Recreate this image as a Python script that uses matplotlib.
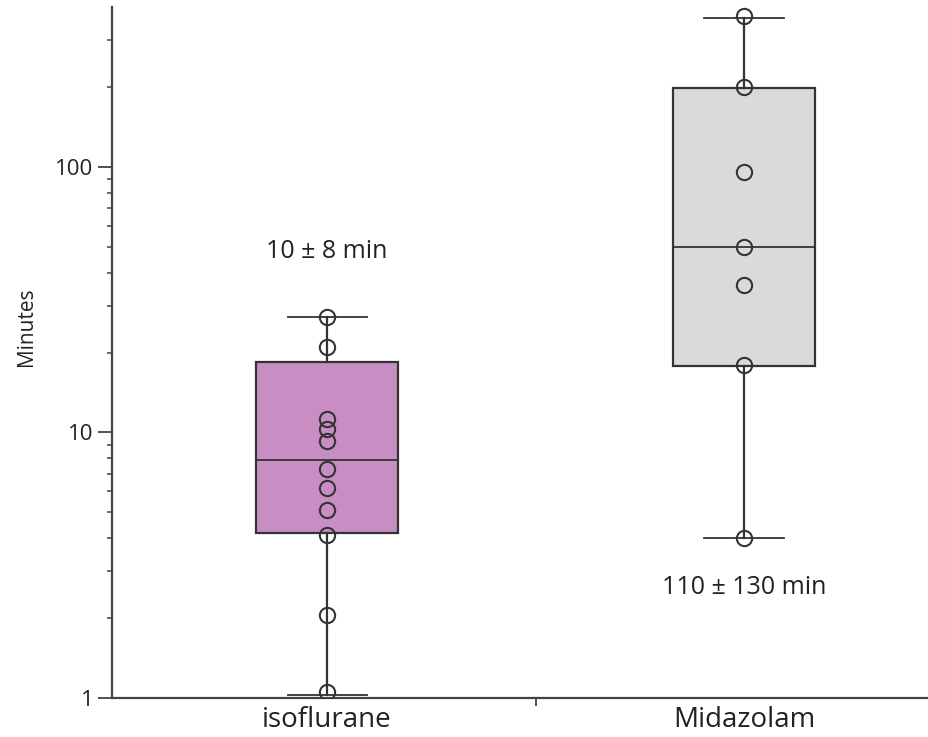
import matplotlib
matplotlib.use("Agg")
import matplotlib.pyplot as plt
import numpy as np

plt.rcParams['font.family'] = ['Open Sans', 'DejaVu Sans']

categories = ["isoflurane", "Midazolam"]
iso_points = [27.3, 21.0, 11.2, 10.3, 9.3, 7.3, 6.2, 5.1, 4.1, 2.05, 1.05]
mid_points = [370, 200, 96, 50, 36, 18, 4.0]
# box statistics: whisker low, Q1, median, Q3, whisker high
box_whislo = [1.03, 4.0]
box_q1 = [4.18, 17.8]
box_med = [7.9, 50]
box_q3 = [18.4, 198]
box_whishi = [27.2, 365]
box_colors = ["#C88EC4", "#DADADA"]
annotations = ["10 \u00b1 8 min", "110 \u00b1 130 min"]
annot_y = [48, 2.6]

fig = plt.figure(figsize=(9.29, 7.37), dpi=100)
ax = fig.add_axes([0.1206, 0.0529, 0.8794, 0.9376])

stats = []
for i in range(2):
    stats.append(dict(whislo=box_whislo[i], q1=box_q1[i], med=box_med[i],
                      q3=box_q3[i], whishi=box_whishi[i], fliers=[]))
edge = "#333333"
bp = ax.bxp(stats, positions=[0, 1], widths=0.34, patch_artist=True,
            showfliers=False, capwidths=0.19,
            boxprops=dict(edgecolor=edge, linewidth=1.6),
            medianprops=dict(color=edge, linewidth=1.3),
            whiskerprops=dict(color=edge, linewidth=1.6),
            capprops=dict(color=edge, linewidth=1.3))
for patch, c in zip(bp['boxes'], box_colors):
    patch.set_facecolor(c)

for i, pts in enumerate([iso_points, mid_points]):
    ax.plot(np.full(len(pts), i), pts, linestyle='none', marker='o',
            markersize=11, markerfacecolor='none', markeredgecolor=edge,
            markeredgewidth=1.5, zorder=5)

for i, (t, y) in enumerate(zip(annotations, annot_y)):
    ax.text(i, y, t, ha='center', va='center', fontsize=18, color='#222222')

ax.set_yscale('log')
ax.set_ylim(1, 400)
ax.set_xlim(-0.516, 1.444)
ax.set_yticks([1, 10, 100])
ax.set_yticklabels(["1", "10", "100"])
minor = [2, 3, 4, 5, 6, 7, 8, 9, 20, 30, 40, 50, 60, 70, 80, 90, 200, 300]
ax.set_yticks(minor, minor=True)
ax.yaxis.set_minor_formatter(matplotlib.ticker.NullFormatter())
ax.tick_params(axis='y', which='major', length=10, width=1.3, colors='#444444',
               labelcolor='#222222', labelsize=16)
ax.tick_params(axis='y', which='minor', length=3.5, width=1.1, colors='#444444')

ax.set_xticks([0, 1])
ax.set_xticklabels(categories)
ax.set_xticks([0.5], minor=True)
ax.tick_params(axis='x', which='major', length=0, labelsize=20, labelcolor='#222222', pad=6)
ax.tick_params(axis='x', which='minor', length=6, width=1.3, colors='#444444')

ax.set_ylabel("Minutes", fontsize=15, color='#222222')
ax.yaxis.set_label_coords(-0.092, 0.537)
for s in ['top', 'right']:
    ax.spines[s].set_visible(False)
for s in ['left', 'bottom']:
    ax.spines[s].set_color('#444444')
    ax.spines[s].set_linewidth(1.6)

fig.savefig("out.png", dpi=100)
